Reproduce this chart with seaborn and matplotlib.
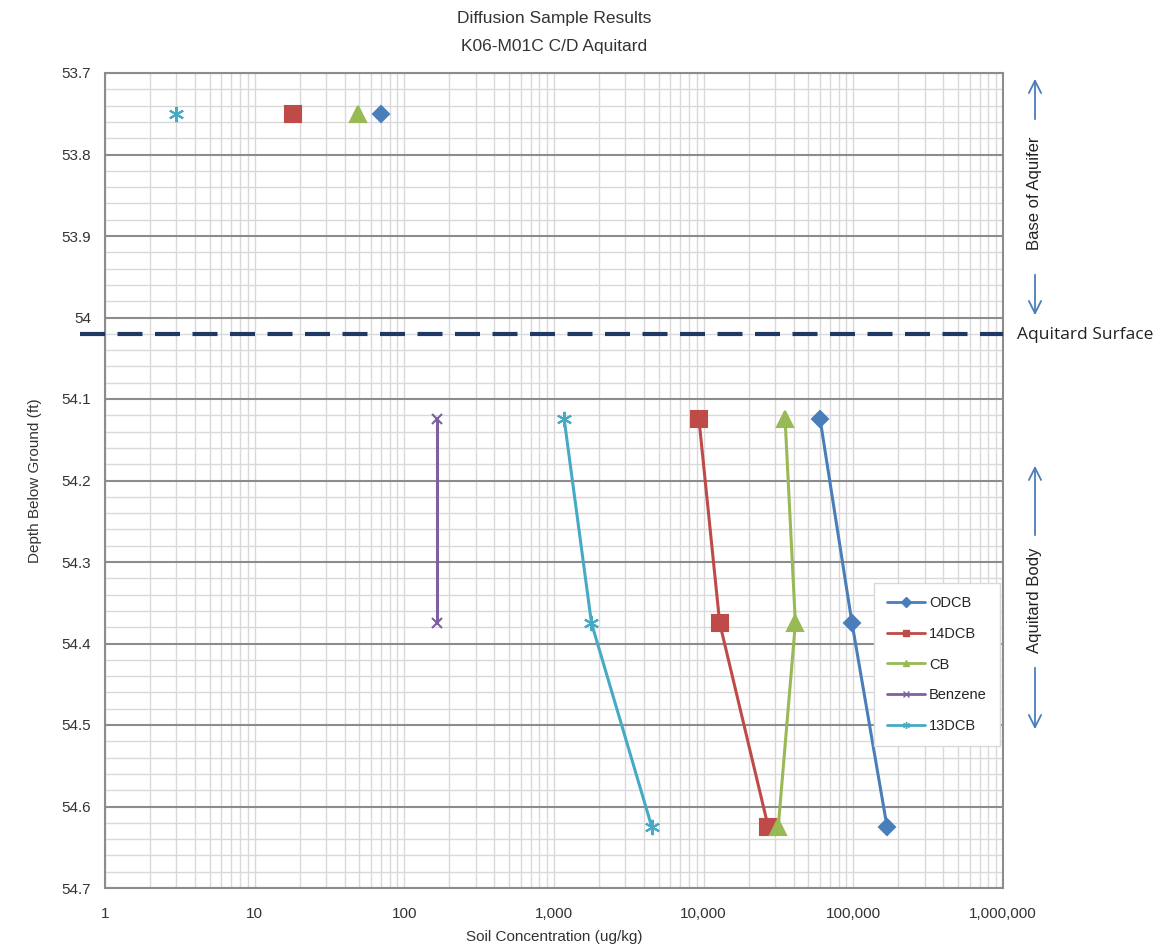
import pandas as pd
import matplotlib
matplotlib.use("Agg")
import matplotlib.pyplot as plt
import seaborn as sns
from matplotlib.ticker import LogLocator, MultipleLocator, FuncFormatter, NullFormatter
from matplotlib.lines import Line2D

# values
depth_top = 53.75
depths = [54.125, 54.375, 54.625]

compounds = ["ODCB", "14DCB", "CB", "Benzene", "13DCB"]
top_conc = {"ODCB": 70, "14DCB": 18, "CB": 49, "Benzene": None, "13DCB": 3}
body_conc = {
    "ODCB": [60000, 98000, 168000],
    "14DCB": [9300, 12800, 27000],
    "CB": [35000, 41000, 31500],
    "Benzene": [165, 165, None],
    "13DCB": [1170, 1780, 4500],
}

x_ticks = [1, 10, 100, 1000, 10000, 100000, 1000000]
y_ticks = [53.7, 53.8, 53.9, 54.0, 54.1, 54.2, 54.3, 54.4, 54.5, 54.6, 54.7]

colors = {"ODCB": "#4a7ebb", "14DCB": "#be4b48", "CB": "#98b954",
          "Benzene": "#7d60a0", "13DCB": "#46aac5"}
markers = {"ODCB": "D", "14DCB": "s", "CB": "^", "Benzene": "x", "13DCB": (6, 2, 0)}
msizes = {"ODCB": 8, "14DCB": 11, "CB": 11, "Benzene": 7, "13DCB": 11}


def build_frame():
    rows = []
    for c in compounds:
        if top_conc[c] is not None:
            rows.append({"compound": c, "depth": depth_top, "conc": top_conc[c], "segment": "top"})
        for d, v in zip(depths, body_conc[c]):
            if v is not None:
                rows.append({"compound": c, "depth": d, "conc": v, "segment": "body"})
    return pd.DataFrame(rows)


df = build_frame()

sns.set_style("white")
plt.rcParams["font.family"] = ["Liberation Sans Narrow", "Liberation Sans", "DejaVu Sans"]

fig = plt.figure(figsize=(11.67, 9.51), dpi=100)
ax = fig.add_axes([105 / 1167, 1 - 888 / 951, 898 / 1167, 815 / 951])

for c in compounds:
    sub = df[df["compound"] == c]
    sns.lineplot(data=sub, x="conc", y="depth", units="segment", estimator=None,
                 sort=False, color=colors[c], marker=markers[c], markersize=msizes[c],
                 markeredgecolor=colors[c], markeredgewidth=1.5, linewidth=2.2,
                 ax=ax, legend=False, zorder=4)

ax.set_xscale("log")
ax.set_xlim(1, 1e6)
ax.set_ylim(54.7, 53.7)
ax.set_xticks(x_ticks, [f"{v:,}" for v in x_ticks])
ax.xaxis.set_minor_locator(LogLocator(base=10, subs=range(2, 10), numticks=20))
ax.xaxis.set_minor_formatter(NullFormatter())
ax.set_yticks(y_ticks, [f"{v:g}" for v in y_ticks])
ax.yaxis.set_minor_locator(MultipleLocator(0.02))
ax.yaxis.set_minor_formatter(NullFormatter())
ax.set_xlim(1, 1e6)
ax.set_ylim(54.7, 53.7)

ax.grid(axis="x", which="both", color="#d9d9d9", linewidth=1.0, zorder=0)
ax.grid(axis="y", which="minor", color="#d9d9d9", linewidth=1.0, zorder=0)
ax.grid(axis="y", which="major", color="#8c8c8c", linewidth=1.5, zorder=1)
ax.set_axisbelow(True)
ax.tick_params(axis="both", which="both", length=0, labelsize=11, colors="#333333")
ax.tick_params(axis="x", pad=14)
ax.tick_params(axis="y", pad=10)
for s in ax.spines.values():
    s.set_color("#8c8c8c")
    s.set_linewidth(1.5)

ax.set_xlabel("Soil Concentration (ug/kg)", fontsize=11, color="#333333", labelpad=6)
ax.set_ylabel("Depth Below Ground (ft)", fontsize=11, color="#333333", labelpad=14)


def fy(py):
    return 1 - py / 951


# title, two lines
fig.text(554 / 1167, fy(19), "Diffusion Sample Results", ha="center", va="center",
         fontsize=12.5, color="#333333")
fig.text(554 / 1167, fy(46), "K06-M01C C/D Aquitard", ha="center", va="center",
         fontsize=12.5, color="#333333")

# aquitard surface line
ax.plot([-0.028, 1.0], [54.02, 54.02], transform=ax.get_yaxis_transform(),
        color="#1f3864", linewidth=3, dashes=(6, 3), clip_on=False, zorder=5)

# right-side annotations
arrow_kw = dict(arrowstyle="->", color="#4a7ebb", lw=1.3, mutation_scale=22)
fx = 1035 / 1167

fig.text(fx, fy(193), "Base of Aquifer", rotation=90, ha="center", va="center",
         fontsize=12, color="#222222")
ax.annotate("", xy=(fx, fy(76)), xytext=(fx, fy(122)), xycoords="figure fraction",
            textcoords="figure fraction", arrowprops=arrow_kw, annotation_clip=False)
ax.annotate("", xy=(fx, fy(318)), xytext=(fx, fy(272)), xycoords="figure fraction",
            textcoords="figure fraction", arrowprops=arrow_kw, annotation_clip=False)
fig.text(1017 / 1167, fy(335), "Aquitard Surface", ha="left", va="center",
         fontsize=12.5, color="#222222", family=["Open Sans", "DejaVu Sans"])
fig.text(fx, fy(600), "Aquitard Body", rotation=90, ha="center", va="center",
         fontsize=12, color="#222222")
ax.annotate("", xy=(fx, fy(463)), xytext=(fx, fy(538)), xycoords="figure fraction",
            textcoords="figure fraction", arrowprops=arrow_kw, annotation_clip=False)
ax.annotate("", xy=(fx, fy(732)), xytext=(fx, fy(665)), xycoords="figure fraction",
            textcoords="figure fraction", arrowprops=arrow_kw, annotation_clip=False)

# legend
handles = [Line2D([0], [0], color=colors[c], marker=markers[c], markersize=5,
                  markeredgecolor=colors[c], linewidth=2) for c in compounds]
leg = ax.legend(handles, compounds, loc="upper right", bbox_to_anchor=(1.0, 0.378),
                frameon=True, fancybox=False, fontsize=10.5, handlelength=2.6,
                labelspacing=1.15, borderpad=0.9, handletextpad=0.3, borderaxespad=0.2)
leg.get_frame().set_edgecolor("#d9d9d9")
leg.get_frame().set_facecolor("white")
leg.get_frame().set_alpha(1)
leg.set_zorder(6)

fig.savefig("out.png", dpi=100)
